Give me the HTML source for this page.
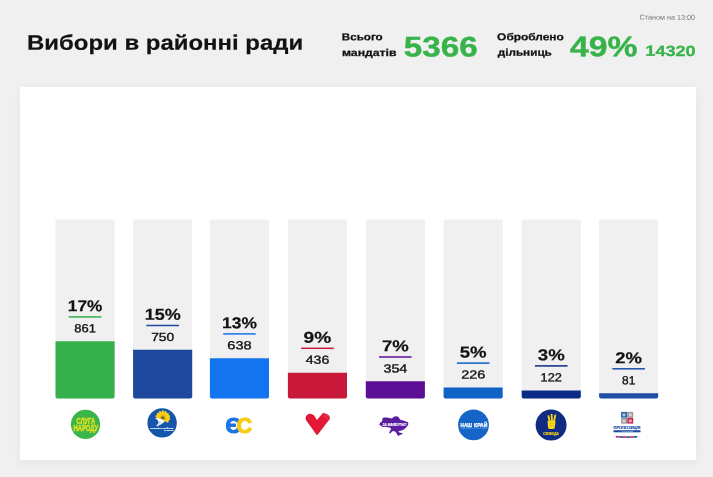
<!DOCTYPE html>
<html lang="uk"><head><meta charset="utf-8"><title>Вибори в районні ради</title>
<style>
html,body{margin:0;padding:0}
body{width:713px;height:477px;overflow:hidden;background:#f0f0f0;font-family:"Liberation Sans",sans-serif;color:#111;position:relative}
.abs{position:absolute;white-space:nowrap;line-height:1}
.sx{display:inline-block;transform-origin:0 0}
.card{position:absolute;left:20px;top:87px;width:676px;height:373px;background:#fff;box-shadow:0 3px 10px rgba(0,0,0,.05)}
.title{font-size:21px;font-weight:bold;-webkit-text-stroke:0.2px #111}
.g{color:#37b34a}
.big{font-size:28.4px;font-weight:bold;-webkit-text-stroke:0.4px #37b34a}
.mid{font-size:14.8px;font-weight:bold;-webkit-text-stroke:0.3px #37b34a}
.sm{font-size:10px;font-weight:bold;-webkit-text-stroke:0.25px #111}
.note{font-size:7px;color:#777}
svg text{font-family:"Liberation Sans",sans-serif}
.pct{font-size:15.7px;font-weight:bold;fill:#111;stroke:#111;stroke-width:.2px;text-anchor:middle}
.cnt{font-size:11.7px;fill:#111;stroke:#111;stroke-width:.35px;text-anchor:middle}
</style></head><body>
<div class="abs title" style="left:0;top:0"><span class="sx" style="transform:translate(27.07px,31.63px) rotate(0.03deg) scaleX(1.1396)">Вибори в районні ради</span></div>
<div class="abs sm" style="left:0;top:0"><span class="sx" style="transform:translate(341.85px,32.18px) rotate(0.03deg) scaleX(1.1595)">Всього</span></div>
<div class="abs sm" style="left:0;top:0"><span class="sx" style="transform:translate(341.94px,47.98px) rotate(0.03deg) scaleX(1.2242)">мандатів</span></div>
<div class="abs g big" style="left:0;top:0"><span class="sx" style="transform:translate(403.85px,32.41px) rotate(0.03deg) scaleX(1.1713)">5366</span></div>
<div class="abs sm" style="left:0;top:0"><span class="sx" style="transform:translate(497.12px,32.16px) rotate(0.03deg) scaleX(1.1908)">Оброблено</span></div>
<div class="abs sm" style="left:0;top:0"><span class="sx" style="transform:translate(497.77px,47.76px) rotate(0.03deg) scaleX(1.1719)">дільниць</span></div>
<div class="abs g big" style="left:0;top:0"><span class="sx" style="transform:translate(570.10px,32.19px) rotate(0.03deg) scaleX(1.1864)">49%</span></div>
<div class="abs g mid" style="left:0;top:0"><span class="sx" style="transform:translate(645.33px,43.87px) rotate(0.03deg) scaleX(1.2233)">14320</span></div>
<div class="abs note" style="left:0;top:0"><span class="sx" style="transform:translate(639.50px,13.62px) rotate(0.03deg) scaleX(1.0320)">Станом на 13:00</span></div>
<div class="card"></div>
<svg style="position:absolute;left:0;top:200px" width="713" height="205" viewBox="0 200 713 205">
<rect x="55.50" y="219.4" width="59.1" height="179.20" rx="1.6" fill="#f0f0f0"/>
<path d="M55.50 341.15h59.1V396.60a2 2 0 0 1 -2 2H57.50a2 2 0 0 1 -2 -2Z" fill="#35b04a"/>
<text class="pct" transform="translate(85.05 311.25) rotate(0.03) scale(1.095 1)">17%</text>
<rect x="68.75" y="316.15" width="32.6" height="1.5" fill="#35b04a"/>
<text class="cnt" transform="translate(85.05 332.35) rotate(0.03) scale(1.107 1)">861</text>
<rect x="133.10" y="219.4" width="59.1" height="179.20" rx="1.6" fill="#f0f0f0"/>
<path d="M133.10 349.7h59.1V396.60a2 2 0 0 1 -2 2H135.10a2 2 0 0 1 -2 -2Z" fill="#1e489b"/>
<text class="pct" transform="translate(162.65 319.85) rotate(0.03) scale(1.146 1)">15%</text>
<rect x="146.35" y="324.75" width="32.6" height="1.5" fill="#1e489b"/>
<text class="cnt" transform="translate(162.65 340.95) rotate(0.03) scale(1.176 1)">750</text>
<rect x="209.90" y="219.4" width="59.1" height="179.20" rx="1.6" fill="#f0f0f0"/>
<path d="M209.90 358.3h59.1V396.60a2 2 0 0 1 -2 2H211.90a2 2 0 0 1 -2 -2Z" fill="#1473ef"/>
<text class="pct" transform="translate(239.45 328.25) rotate(0.03) scale(1.107 1)">13%</text>
<rect x="223.15" y="333.15" width="32.6" height="1.5" fill="#1473ef"/>
<text class="cnt" transform="translate(239.45 349.35) rotate(0.03) scale(1.244 1)">638</text>
<rect x="287.90" y="219.4" width="59.1" height="179.20" rx="1.6" fill="#f0f0f0"/>
<path d="M287.90 372.8h59.1V396.60a2 2 0 0 1 -2 2H289.90a2 2 0 0 1 -2 -2Z" fill="#c9193a"/>
<text class="pct" transform="translate(317.45 342.65) rotate(0.03) scale(1.220 1)">9%</text>
<rect x="301.15" y="347.55" width="32.6" height="1.5" fill="#c9193a"/>
<text class="cnt" transform="translate(317.45 363.75) rotate(0.03) scale(1.210 1)">436</text>
<rect x="365.80" y="219.4" width="59.1" height="179.20" rx="1.6" fill="#f0f0f0"/>
<path d="M365.80 381.3h59.1V396.60a2 2 0 0 1 -2 2H367.80a2 2 0 0 1 -2 -2Z" fill="#5b0f96"/>
<text class="pct" transform="translate(395.35 351.35) rotate(0.03) scale(1.182 1)">7%</text>
<rect x="379.05" y="356.25" width="32.6" height="1.5" fill="#5b0f96"/>
<text class="cnt" transform="translate(395.35 372.45) rotate(0.03) scale(1.224 1)">354</text>
<rect x="443.60" y="219.4" width="59.1" height="179.20" rx="1.6" fill="#f0f0f0"/>
<path d="M443.60 387.6h59.1V396.60a2 2 0 0 1 -2 2H445.60a2 2 0 0 1 -2 -2Z" fill="#0f63c6"/>
<text class="pct" transform="translate(473.15 357.45) rotate(0.03) scale(1.184 1)">5%</text>
<rect x="456.85" y="362.35" width="32.6" height="1.5" fill="#0f63c6"/>
<text class="cnt" transform="translate(473.15 378.55) rotate(0.03) scale(1.231 1)">226</text>
<rect x="521.70" y="219.4" width="59.1" height="179.20" rx="1.6" fill="#f0f0f0"/>
<path d="M521.70 390.4h59.1V396.60a2 2 0 0 1 -2 2H523.70a2 2 0 0 1 -2 -2Z" fill="#0a2a86"/>
<text class="pct" transform="translate(551.25 360.25) rotate(0.03) scale(1.185 1)">3%</text>
<rect x="534.95" y="365.15" width="32.6" height="1.5" fill="#0a2a86"/>
<text class="cnt" transform="translate(551.25 381.35) rotate(0.03) scale(1.095 1)">122</text>
<rect x="599.10" y="219.4" width="59.1" height="179.20" rx="1.6" fill="#f0f0f0"/>
<path d="M599.10 393.2h59.1V396.60a2 2 0 0 1 -2 2H601.10a2 2 0 0 1 -2 -2Z" fill="#1e4ea6"/>
<text class="pct" transform="translate(628.65 363.15) rotate(0.03) scale(1.177 1)">2%</text>
<rect x="612.35" y="368.05" width="32.6" height="1.5" fill="#1e4ea6"/>
<text class="cnt" transform="translate(628.65 384.25) rotate(0.03) scale(1.019 1)">81</text>
</svg>
<svg style="position:absolute;left:0;top:400px" width="713" height="60" viewBox="0 400 713 60" font-family="'Liberation Sans',sans-serif">
<!-- 1: Sluha Narodu -->
<g>
<circle cx="85.5" cy="424.4" r="14.6" fill="#39b54a"/>
<text x="76.5" y="423.7" font-size="9.7" font-weight="bold" fill="#e4e01f" stroke="#e4e01f" stroke-width="0.45" textLength="18.6" lengthAdjust="spacingAndGlyphs">СЛУГА</text>
<text x="73.5" y="431" font-size="9.4" font-weight="bold" fill="#e4e01f" stroke="#e4e01f" stroke-width="0.45" textLength="24.5" lengthAdjust="spacingAndGlyphs">НАРОДУ</text>
</g>
<!-- 2: OPZZh -->
<g>
<circle cx="162.1" cy="422.9" r="14.7" fill="#1556ac"/>
<g transform="translate(162.8 417.9)">
<g fill="#fdd216">
<ellipse rx="1.5" ry="3.6" cy="-4" transform="rotate(-75)"/>
<ellipse rx="1.5" ry="3.6" cy="-4" transform="rotate(-50)"/>
<ellipse rx="1.5" ry="3.6" cy="-4" transform="rotate(-25)"/>
<ellipse rx="1.5" ry="3.6" cy="-4" transform="rotate(0)"/>
<ellipse rx="1.5" ry="3.6" cy="-4" transform="rotate(25)"/>
<ellipse rx="1.5" ry="3.6" cy="-4" transform="rotate(50)"/>
<ellipse rx="1.5" ry="3.6" cy="-4" transform="rotate(75)"/>
<ellipse rx="1.5" ry="3.6" cy="-4" transform="rotate(100)"/>
<ellipse rx="1.5" ry="3.4" cy="-3.8" transform="rotate(125)"/>
</g>
<circle r="3.4" fill="#f6b218"/>
<circle r="1.7" fill="#5d7a1f"/>
</g>
<path d="M154.9 418.1 Q158.6 418 161.4 419.2 Q163.4 420 165 420.9 Q163.4 422.6 161.6 424 Q159.2 425.8 155.8 426.4 Q157.8 424.6 158.6 422.6 Q158.9 420.6 154.9 418.1 Z" fill="#fff"/>
<path d="M158.7 421.6 Q160.6 422.2 162.6 421.6 Q161.4 423.2 160 424.2 Q158.2 425.4 156.4 426 Q158.2 424.2 158.7 421.6 Z" fill="#c9d6ea"/>
<text x="173.4" y="429.2" font-size="2.2" font-weight="bold" fill="#fff" stroke="#fff" stroke-width="0.15" text-anchor="end" textLength="23.4" lengthAdjust="spacingAndGlyphs">ОПОЗИЦІЙНА ПЛАТФОРМА</text>
<text x="173.4" y="431.2" font-size="2.2" font-weight="bold" fill="#fff" stroke="#fff" stroke-width="0.15" text-anchor="end" textLength="9.4" lengthAdjust="spacingAndGlyphs">ЗА ЖИТТЯ</text>
</g>
<!-- 3: ES -->
<g font-size="21.6" font-weight="bold" stroke-linejoin="round" stroke-width="1.1">
<text x="225.6" y="432.6" fill="#1a73e8" stroke="#1a73e8">Є</text>
<text x="236.6" y="432.6" fill="#f8cc16" stroke="#f8cc16">С</text>
</g>
<!-- 4: heart -->
<path d="M305.4 418.3 Q305.6 415.4 308.5 414.1 Q311.4 413.2 314.4 415.7 L316.9 419.9 L323.2 412.8 L325.3 413.4 L327.8 414.5 L329.7 416.2 L330 418.7 L323.2 427.5 L318.1 434.2 L316.6 434.9 L310.6 426.6 L306.4 420.8 Z" fill="#e31836"/>
<path d="M322.6 416.6 L326.2 413.4 M324.6 417.6 L328.6 414.4 M326.2 419.2 L330.2 416.6" stroke="#fff" stroke-width="0.35" opacity="0.55" fill="none"/>
<!-- 5: Za Maibutnie -->
<g>
<path d="M379.2 424.5 L380.3 422.6 L382 421.4 L382.4 418.8 L383.6 417.6 L386.6 417.4 L389.5 418 L392 418.4 L393.7 416.7 L396.2 416.3 L398.3 416.7 L399.6 418.8 L400.8 420.1 L403.4 420.5 L405.9 421.4 L408 422.2 L408.4 423.9 L407.5 426 L406.3 427.2 L404.6 428.9 L402.5 430.2 L399.2 431 L398.3 431.8 L400 432.7 L402.5 433.1 L402.1 434.4 L400 434.8 L398.7 435.9 L397.5 435.2 L396.6 433.5 L395.4 431.8 L393.7 431 L392 431.4 L390.8 433.1 L389.1 433.5 L389.5 431.8 L390.4 430.2 L391.2 428.9 L389.9 427.6 L387.4 427.2 L384.9 426.8 L382.8 427 L381.1 426 Z" fill="#5c1ea0"/>
<text x="382.6" y="425.7" font-size="3.7" font-weight="bold" font-style="italic" fill="#fff" stroke="#fff" stroke-width="0.15" textLength="23.9" lengthAdjust="spacingAndGlyphs">ЗА МАЙБУТНЄ!</text>
</g>
<!-- 6: Nash Krai -->
<g>
<circle cx="473.5" cy="424.9" r="15.4" fill="#1565c8"/>
<text x="460.5" y="426.5" font-size="4.7" font-weight="bold" fill="#fff" stroke="#fff" stroke-width="0.25" textLength="11.5" lengthAdjust="spacingAndGlyphs">НАШ</text>
<text x="474.1" y="426.5" font-size="4.7" font-weight="bold" fill="#fff" stroke="#fff" stroke-width="0.25" textLength="13.3" lengthAdjust="spacingAndGlyphs">КРАЙ</text>
<text x="460.7" y="428.9" font-size="1.5" fill="#fff" opacity="0.45" textLength="26.6" lengthAdjust="spacingAndGlyphs">ПОЛІТИЧНА ПАРТІЯ</text>
</g>
<!-- 7: Svoboda -->
<g>
<circle cx="551.1" cy="425.1" r="15.5" fill="#102c82"/>
<g fill="none" stroke="#f7d417" stroke-linecap="round">
<path d="M548.5 416.2 L549.7 422" stroke-width="1.85"/>
<path d="M551.6 414.6 L552 422" stroke-width="1.85"/>
<path d="M555.2 415.4 L553.9 422" stroke-width="1.85"/>
</g>
<path d="M547.6 421.6 Q547.2 420.6 549 420.8 L555 420.8 Q555.6 421 555.4 422.4 L554.8 427.6 Q554.6 428.9 553.2 428.9 L549.4 428.9 Q548.2 428.8 548 427.4 Z" fill="#f7d417"/>
<path d="M549 424 Q551.3 422.3 553.6 423.8 M549.4 426.2 Q551.3 424.9 553.4 426" fill="none" stroke="#c9a413" stroke-width="0.5"/>
<text x="543.2" y="435.3" font-size="4.4" font-weight="bold" font-style="italic" fill="#f7d417" stroke="#f7d417" stroke-width="0.2" textLength="15.5" lengthAdjust="spacingAndGlyphs">СВОБОДА</text>
</g>
<!-- 8: Propozytsiia -->
<g>
<rect x="621.1" y="411.9" width="5.95" height="5.75" fill="#2a62b0"/>
<rect x="627.25" y="411.9" width="5.95" height="5.75" fill="#999"/>
<rect x="621.1" y="417.85" width="5.95" height="5.75" fill="#999"/>
<rect x="627.25" y="417.85" width="5.95" height="5.75" fill="#c8234a"/>
<g fill="#fff" opacity="0.6">
<path d="M622.4 413.4h3.2v1.6q0 1.2-1.6 1.8q-1.6-.6-1.6-1.8z"/>
<path d="M628.7 413.4h3.2v1.6q0 1.2-1.6 1.8q-1.6-.6-1.6-1.8z"/>
<path d="M622.4 419.4h3.2v1.6q0 1.2-1.6 1.8q-1.6-.6-1.6-1.8z"/>
<path d="M628.7 419.4h3.2v1.6q0 1.2-1.6 1.8q-1.6-.6-1.6-1.8z"/>
</g>
<text x="613.5" y="428.7" font-size="3.4" font-weight="bold" fill="#1d4fa5" stroke="#1d4fa5" stroke-width="0.15" textLength="27" lengthAdjust="spacingAndGlyphs">ПРОПОЗИЦІЯ</text>
<rect x="613.5" y="430.2" width="27" height="2.1" fill="#1c4da3"/>
<text x="621.2" y="431.9" font-size="1.6" fill="#fff" opacity="0.8" textLength="11.8" lengthAdjust="spacingAndGlyphs">ПАРТІЯ МЕРІВ</text>
<g>
<rect x="615.8" y="436" width="3.6" height="1.6" fill="#c8234a"/>
<rect x="619.4" y="436.2" width="3.6" height="1.6" fill="#1c4da3"/>
<rect x="623" y="436.3" width="3.6" height="1.6" fill="#c8234a"/>
<rect x="626.6" y="436.3" width="3.6" height="1.6" fill="#1c4da3"/>
<rect x="630.2" y="436.2" width="3.6" height="1.6" fill="#c8234a"/>
<rect x="633.8" y="436" width="3.4" height="1.6" fill="#1c4da3"/>
</g>
</g>
</svg>

</body></html>
